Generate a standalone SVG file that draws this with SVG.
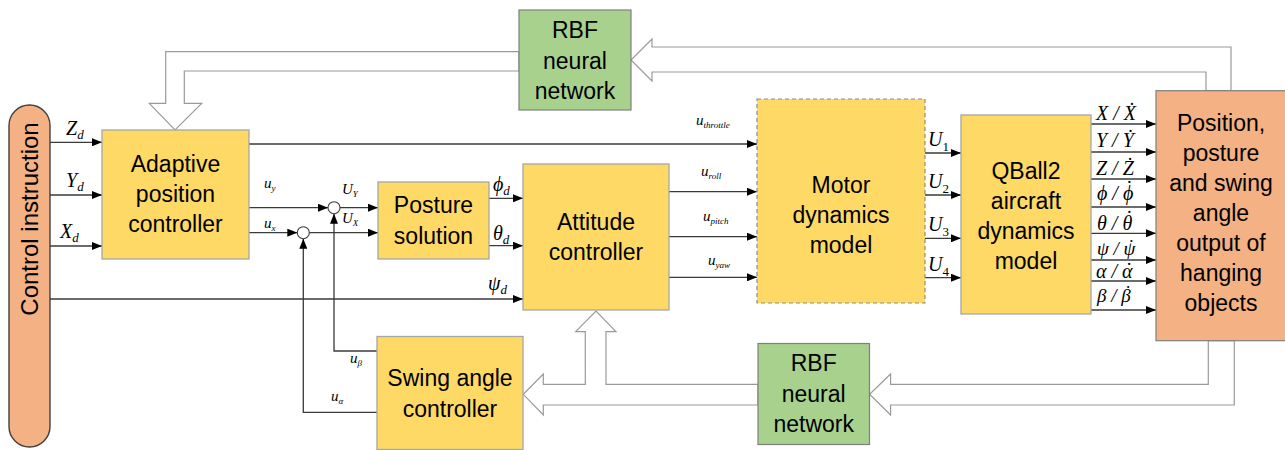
<svg xmlns="http://www.w3.org/2000/svg" width="1285" height="450" viewBox="0 0 1285 450">
  <defs>
    <marker id="ah" markerWidth="10" markerHeight="8" refX="10" refY="4" orient="auto" markerUnits="userSpaceOnUse">
      <path d="M0,0 L10,4 L0,8 Z" fill="#000"/>
    </marker>
    <style>
      .box{fill:#FFD966;stroke:#A6A6A6;stroke-width:1.3}
      .dash{fill:#FFD966;stroke:#8C8C8C;stroke-width:1.2;stroke-dasharray:4 3}
      .grn{fill:#A9D18E;stroke:#7F7F7F;stroke-width:1.2}
      .org{fill:#F4B183;stroke:#7F7F7F;stroke-width:1.2}
      .cap{fill:#F4B183;stroke:#404040;stroke-width:1.4}
      .t{font-family:"Liberation Sans",Arial,sans-serif;font-size:23px;fill:#000;text-anchor:middle}
      .sig{stroke:#3A3A3A;stroke-width:1.3;fill:none}
      .arr{marker-end:url(#ah)}
      .hollow{fill:#FFFFFF;stroke:#9A9A9A;stroke-width:1.2}
      .sum{fill:#FFFFFF;stroke:#3A3A3A;stroke-width:1.1}
      .m{font-family:"Liberation Serif","Times New Roman",serif;font-style:italic;fill:#000}
      .m20{font-size:20px}
      .m19{font-size:19px}
      .m15{font-size:15px}
      .s13{font-size:13px}
      .s9{font-size:9px}
      .up{font-style:normal}
    </style>
  </defs>

  <!-- thick hollow feedback arrows -->
  <g id="feedback">
    <polygon class="hollow" points="519,51.7 165.7,51.7 165.7,103.3 149.3,103.3 175,130 201.7,103.3 184.3,103.3 184.3,71 519,71"/>
    <polygon class="hollow" points="1231,90.7 1231,47 652,47 652,39 631,60 652,81 652,72 1206,72 1206,90.7"/>
    <polygon class="hollow" points="1208.3,340.7 1208.3,384.3 890.6,384.3 890.6,374 869.6,394.3 890.6,415 890.6,405 1234.3,405 1234.3,340.7"/>
    <polygon class="hollow" points="758,405 543.3,405 543.3,415 523.3,394.3 543.3,374 543.3,384.3 585.3,384.3 585.3,331.7 575.7,331.7 596,311 616,331.7 606,331.7 606,384.3 758,384.3"/>
  </g>

  <!-- signal connectors -->
  <g id="connectors">
    <line class="sig arr" x1="50" y1="142.3" x2="102" y2="142.3"/>
    <line class="sig arr" x1="50" y1="195" x2="102" y2="195"/>
    <line class="sig arr" x1="50" y1="246" x2="102" y2="246"/>
    <line class="sig arr" x1="50" y1="299" x2="523" y2="299"/>
    <line class="sig arr" x1="249" y1="144" x2="757" y2="144"/>
    <line class="sig arr" x1="249" y1="207.7" x2="328" y2="207.7"/>
    <line class="sig arr" x1="249" y1="232.7" x2="297.3" y2="232.7"/>
    <line class="sig arr" x1="340" y1="207.7" x2="378" y2="207.7"/>
    <line class="sig arr" x1="309.3" y1="232.7" x2="378" y2="232.7"/>
    <polyline class="sig arr" points="377,351 334,351 334,213.7"/>
    <polyline class="sig arr" points="377,412.3 303.3,412.3 303.3,238.7"/>
    <line class="sig arr" x1="489" y1="198.3" x2="523" y2="198.3"/>
    <line class="sig arr" x1="489" y1="245.7" x2="523" y2="245.7"/>
    <line class="sig arr" x1="669" y1="191.7" x2="757" y2="191.7"/>
    <line class="sig arr" x1="669" y1="236.7" x2="757" y2="236.7"/>
    <line class="sig arr" x1="669" y1="277.3" x2="757" y2="277.3"/>
    <line class="sig arr" x1="925" y1="153" x2="961" y2="153"/>
    <line class="sig arr" x1="925" y1="195" x2="961" y2="195"/>
    <line class="sig arr" x1="925" y1="238.3" x2="961" y2="238.3"/>
    <line class="sig arr" x1="925" y1="277.7" x2="961" y2="277.7"/>
    <line class="sig arr" x1="1091" y1="124" x2="1156" y2="124"/>
    <line class="sig arr" x1="1091" y1="152" x2="1156" y2="152"/>
    <line class="sig arr" x1="1091" y1="179" x2="1156" y2="179"/>
    <line class="sig arr" x1="1091" y1="207" x2="1156" y2="207"/>
    <line class="sig arr" x1="1091" y1="233.3" x2="1156" y2="233.3"/>
    <line class="sig arr" x1="1091" y1="260" x2="1156" y2="260"/>
    <line class="sig arr" x1="1091" y1="281" x2="1156" y2="281"/>
    <line class="sig arr" x1="1091" y1="310" x2="1156" y2="310"/>
    <circle class="sum" cx="334" cy="207.7" r="6"/>
    <circle class="sum" cx="303.3" cy="232.7" r="6"/>

    <!-- signal labels -->
    <text class="m m20" x="66" y="135">Z<tspan class="s13" dy="4">d</tspan></text>
    <text class="m m20" x="66" y="187">Y<tspan class="s13" dy="4">d</tspan></text>
    <text class="m m20" x="60" y="238">X<tspan class="s13" dy="4">d</tspan></text>
    <text class="m m15" x="264" y="188">u<tspan class="s9" dy="3">y</tspan></text>
    <text class="m m15" x="264" y="228">u<tspan class="s9" dy="3">x</tspan></text>
    <text class="m m15" x="342" y="194">U<tspan class="s9" dy="3">Y</tspan></text>
    <text class="m m15" x="342" y="223">U<tspan class="s9" dy="3">X</tspan></text>
    <text class="m m15" x="350" y="363">u<tspan class="s9" dy="3">β</tspan></text>
    <text class="m m15" x="331" y="401">u<tspan class="s9" dy="3">α</tspan></text>
    <text class="m m20" x="493" y="191">ϕ<tspan class="s13" dy="4">d</tspan></text>
    <text class="m m20" x="493" y="240">θ<tspan class="s13" dy="4">d</tspan></text>
    <text class="m m20" x="488" y="290">ψ<tspan class="s13" dy="4">d</tspan></text>
    <text class="m m15" x="696" y="125">u<tspan class="s9" dy="3">throttle</tspan></text>
    <text class="m m15" x="701" y="176">u<tspan class="s9" dy="3">roll</tspan></text>
    <text class="m m15" x="703" y="221">u<tspan class="s9" dy="3">pitch</tspan></text>
    <text class="m m15" x="708" y="265">u<tspan class="s9" dy="3">yaw</tspan></text>
    <text class="m m20" x="928" y="146">U<tspan class="s13 up" dy="5">1</tspan></text>
    <text class="m m20" x="928" y="188">U<tspan class="s13 up" dy="5">2</tspan></text>
    <text class="m m20" x="928" y="231">U<tspan class="s13 up" dy="5">3</tspan></text>
    <text class="m m20" x="928" y="271">U<tspan class="s13 up" dy="5">4</tspan></text>
    <text class="m m20" x="1096" y="120">X / Ẋ</text>
    <text class="m m20" x="1096" y="147">Y / Ẏ</text>
    <text class="m m20" x="1096" y="175">Z / Ż</text>
    <!-- dot accents placed over the lowercase Greek rates -->
    <text class="m m20" x="1097" y="200">ϕ / ϕ<tspan dx="-8.5" dy="-5">˙</tspan></text>
    <text class="m m20" x="1097" y="230">θ / θ<tspan dx="-7.5" dy="-5">˙</tspan></text>
    <text class="m m19" x="1097" y="255">ψ / ψ<tspan dx="-8.5" dy="-2">˙</tspan></text>
    <text class="m m20" x="1096" y="278">α / α<tspan dx="-8" dy="-1">˙</tspan></text>
    <text class="m m19" x="1097" y="302">β / β<tspan dx="-7" dy="-3">˙</tspan></text>
  </g>

  <g id="control-instruction">
    <rect class="cap" x="9" y="105" width="41" height="342" rx="20.5" ry="20.5"/>
    <text class="t" transform="translate(38,219) rotate(-90)" style="font-size:24px">Control instruction</text>
  </g>

  <g id="adaptive-position-controller">
    <rect class="box" x="102" y="130" width="147" height="129"/>
    <text class="t" x="175.5" y="172">Adaptive</text>
    <text class="t" x="175.5" y="202">position</text>
    <text class="t" x="175.5" y="232">controller</text>
  </g>

  <g id="posture-solution">
    <rect class="box" x="378" y="182" width="111" height="77"/>
    <text class="t" x="433.5" y="213">Posture</text>
    <text class="t" x="433.5" y="244">solution</text>
  </g>

  <g id="attitude-controller">
    <rect class="box" x="523" y="164" width="146" height="146"/>
    <text class="t" x="596" y="230">Attitude</text>
    <text class="t" x="596" y="260">controller</text>
  </g>

  <g id="swing-angle-controller">
    <rect class="box" x="377" y="336.5" width="146" height="113"/>
    <text class="t" x="450" y="386">Swing angle</text>
    <text class="t" x="450" y="417">controller</text>
  </g>

  <g id="motor-dynamics-model">
    <rect class="dash" x="757" y="99" width="168" height="204"/>
    <text class="t" x="841" y="193">Motor</text>
    <text class="t" x="841" y="223">dynamics</text>
    <text class="t" x="841" y="253">model</text>
  </g>

  <g id="qball2-dynamics-model">
    <rect class="box" x="961" y="115" width="130" height="199"/>
    <text class="t" x="1026" y="179">QBall2</text>
    <text class="t" x="1026" y="209">aircraft</text>
    <text class="t" x="1026" y="239">dynamics</text>
    <text class="t" x="1026" y="269">model</text>
  </g>

  <g id="output">
    <rect class="org" x="1156" y="90.7" width="130" height="250"/>
    <text class="t" x="1221" y="131">Position,</text>
    <text class="t" x="1221" y="161">posture</text>
    <text class="t" x="1221" y="191">and swing</text>
    <text class="t" x="1221" y="221">angle</text>
    <text class="t" x="1221" y="251">output of</text>
    <text class="t" x="1221" y="281">hanging</text>
    <text class="t" x="1221" y="311">objects</text>
  </g>

  <g id="rbf-top">
    <rect class="grn" x="519" y="10" width="112" height="100"/>
    <text class="t" x="575" y="38">RBF</text>
    <text class="t" x="575" y="69">neural</text>
    <text class="t" x="575" y="99">network</text>
  </g>

  <g id="rbf-bottom">
    <rect class="grn" x="758" y="343.5" width="111.5" height="101"/>
    <text class="t" x="813.7" y="371">RBF</text>
    <text class="t" x="813.7" y="402">neural</text>
    <text class="t" x="813.7" y="432">network</text>
  </g>
</svg>
